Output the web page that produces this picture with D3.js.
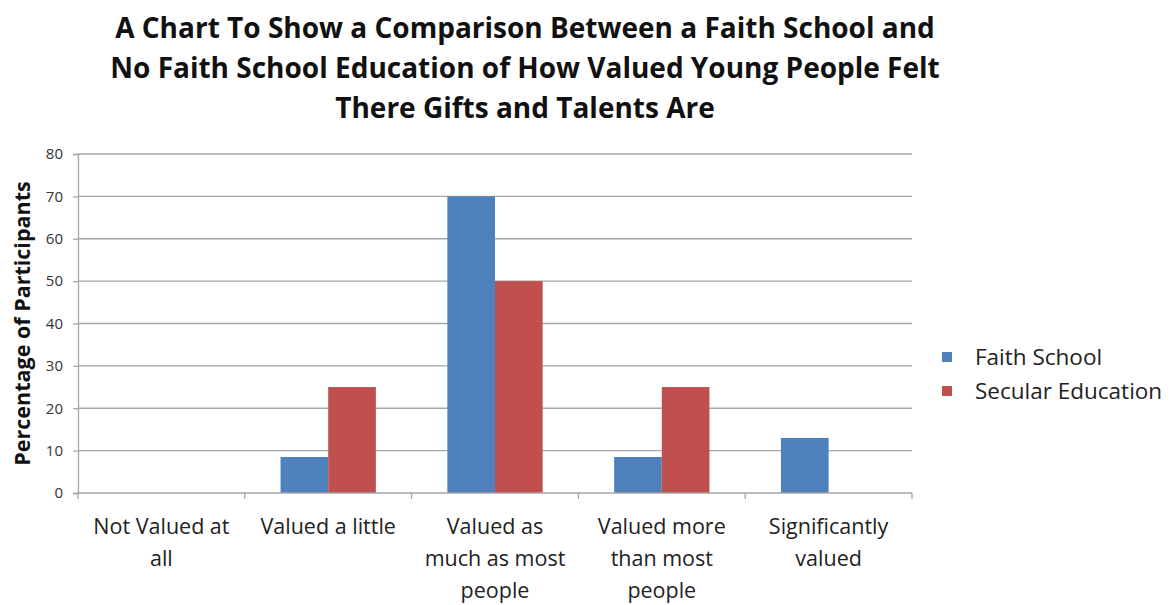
<!DOCTYPE html>
<html>
<head>
<meta charset="utf-8">
<script src="https://cdn.jsdelivr.net/npm/d3@7"></script>
<style>
  html, body { margin: 0; padding: 0; background: #fff; }
  svg { display: block; }
</style>
</head>
<body>
<svg id="chart" width="1173" height="605"></svg>
<script>
// Response categories (each label split into its wrapped lines)
const categories = [
  "Not Valued at all",
  "Valued a little",
  "Valued as much as most people",
  "Valued more than most people",
  "Significantly valued"
];
const categoryLines = [
  ["Not Valued at", "all"],
  ["Valued a little"],
  ["Valued as", "much as most", "people"],
  ["Valued more", "than most", "people"],
  ["Significantly", "valued"]
];
const seriesNames = ["Faith School", "Secular Education"];
const faithSchool = [0, 8.5, 70, 8.5, 13];
const secularEducation = [0, 25, 50, 25, 0];
const yTicks = [0, 10, 20, 30, 40, 50, 60, 70, 80];
const titleLines = [
  "A Chart To Show a Comparison Between a Faith School and",
  "No Faith School Education of How Valued Young People Felt",
  "There Gifts and Talents Are"
];
const colors = ["#4F81BD", "#C0504D"];

const svg = d3.select("#chart");
const plot = { left: 78, right: 912, top: 154, bottom: 493 };
const gridColor = "#a6a6a6";

const x = d3.scaleBand().domain(categories).range([plot.left, plot.right]).paddingInner(0).paddingOuter(0);
const inner = d3.scaleBand().domain(seriesNames).range([0, x.bandwidth()]).paddingInner(0).paddingOuter(0.75);
const y = d3.scaleLinear().domain([0, 80]).range([plot.bottom, plot.top]);

// Horizontal gridlines
svg.append("g").selectAll("line").data(yTicks.filter(d => d > 0)).join("line")
  .attr("x1", plot.left).attr("x2", plot.right)
  .attr("y1", d => y(d)).attr("y2", d => y(d))
  .attr("stroke", gridColor).attr("stroke-width", 1.3);

// Bars
const series = [faithSchool, secularEducation];
const barG = svg.append("g");
series.forEach((vals, si) => {
  barG.selectAll(null).data(vals.map((v, i) => ({ v, c: categories[i] })).filter(d => d.v > 0))
    .join("rect")
    .attr("x", d => x(d.c) + inner(seriesNames[si]))
    .attr("width", inner.bandwidth())
    .attr("y", d => y(d.v))
    .attr("height", d => y(0) - y(d.v))
    .attr("fill", colors[si]);
});

// Y axis
const yAxis = d3.axisLeft(y).tickValues(yTicks).tickSize(5).tickPadding(10);
const yg = svg.append("g").attr("transform", `translate(${plot.left},0)`).call(yAxis);
yg.select(".domain").attr("stroke", gridColor).attr("stroke-width", 1.3);
yg.selectAll(".tick line").attr("stroke", gridColor).attr("stroke-width", 1.3);
yg.selectAll(".tick text").attr("font-family", "'Open Sans', sans-serif")
  .attr("font-size", 15).attr("fill", "#333");

// X axis with ticks at band boundaries
const xg = svg.append("g");
xg.append("line").attr("x1", plot.left).attr("x2", plot.right)
  .attr("y1", plot.bottom).attr("y2", plot.bottom)
  .attr("stroke", gridColor).attr("stroke-width", 1.3);
const boundaries = categories.map(c => x(c)).concat([plot.right]);
xg.selectAll("line.tk").data(boundaries).join("line").attr("class", "tk")
  .attr("x1", d => d).attr("x2", d => d)
  .attr("y1", plot.bottom).attr("y2", plot.bottom + 6)
  .attr("stroke", gridColor).attr("stroke-width", 1.3);

// Category labels
categoryLines.forEach((lines, i) => {
  const cx = x(categories[i]) + x.bandwidth() / 2;
  const t = xg.append("text")
    .attr("text-anchor", "middle")
    .attr("font-family", "'Open Sans', sans-serif")
    .attr("font-size", 21.5).attr("fill", "#222");
  lines.forEach((ln, j) => {
    t.append("tspan").attr("x", cx).attr("y", 534 + j * 32).text(ln);
  });
});

// Y axis title
svg.append("text")
  .attr("transform", `translate(30,${(plot.top + plot.bottom) / 2}) rotate(-90)`)
  .attr("text-anchor", "middle")
  .attr("font-family", "'Open Sans', sans-serif").attr("font-weight", 700)
  .attr("font-size", 21.5).attr("fill", "#111")
  .text("Percentage of Participants");

// Title
const title = svg.append("text")
  .attr("text-anchor", "middle")
  .attr("font-family", "'Open Sans', sans-serif").attr("font-weight", 700)
  .attr("font-size", 28).attr("fill", "#111");
titleLines.forEach((ln, j) => {
  title.append("tspan").attr("x", 525).attr("y", 38 + j * 40).text(ln);
});

// Legend
const legend = svg.append("g");
seriesNames.forEach((name, i) => {
  const ly = 357 + i * 34;
  legend.append("rect").attr("x", 942).attr("y", ly - 5).attr("width", 10).attr("height", 10).attr("fill", colors[i]);
  legend.append("text").attr("x", 975).attr("y", ly + 8)
    .attr("font-family", "'Open Sans', sans-serif").attr("font-size", 22.5).attr("fill", "#222")
    .text(name);
});
</script>
</body>
</html>
